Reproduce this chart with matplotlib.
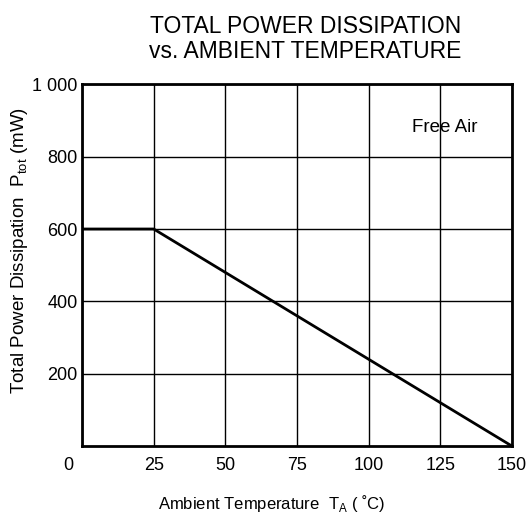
import matplotlib
matplotlib.use("Agg")
import matplotlib.pyplot as plt
import matplotlib.transforms as mtrans

plt.rcParams["font.family"] = ["Liberation Sans", "DejaVu Sans"]

# derating curve: flat to 25 C, then linear to zero at 150 C
temp_c = [0, 25, 150]
ptot_mw = [600, 600, 0]

x_ticks = [0, 25, 50, 75, 100, 125, 150]
y_ticks = [200, 400, 600, 800, 1000]
y_labels = ["200", "400", "600", "800", "1 000"]

fig = plt.figure(figsize=(5.29, 5.20), dpi=100)
ax = fig.add_axes([0.155, 0.142, 0.813, 0.696])

ax.plot(temp_c, ptot_mw, color="black", linewidth=2.0, solid_capstyle="butt")

ax.set_xlim(0, 150)
ax.set_ylim(0, 1000)
ax.set_xticks(x_ticks)
ax.set_yticks(y_ticks)
ax.set_yticklabels(y_labels)
ax.tick_params(axis="x", length=0, labelsize=13, pad=8)
ax.tick_params(axis="y", length=0, labelsize=13, pad=3)
ax.grid(True, color="black", linewidth=1.0)
for sp in ax.spines.values():
    sp.set_linewidth(2.0)

# the origin label sits in the corner, left of the axis
fig.canvas.draw()
zero_lbl = ax.get_xticklabels()[0]
zero_lbl.set_transform(zero_lbl.get_transform()
                       + mtrans.ScaledTranslation(-10 / 72, 0, fig.dpi_scale_trans))

ax.text(138, 880, "Free Air", fontsize=13.5, ha="right", va="center")

ax.set_xlabel("Ambient Temperature  T$_\\mathregular{A}$ ( \u02daC)", fontsize=12)
ax.xaxis.set_label_coords(0.44, -0.13)
ax.set_ylabel("Total Power Dissipation  P$_\\mathregular{tot}$ (mW)", fontsize=13.5)
ax.yaxis.set_label_coords(-0.12, 0.54)

fig.text(0.577, 0.925, "TOTAL POWER DISSIPATION\nvs. AMBIENT TEMPERATURE",
         ha="center", va="center", fontsize=16.5, linespacing=1.1)

fig.savefig("out.png", dpi=100, facecolor="white")
